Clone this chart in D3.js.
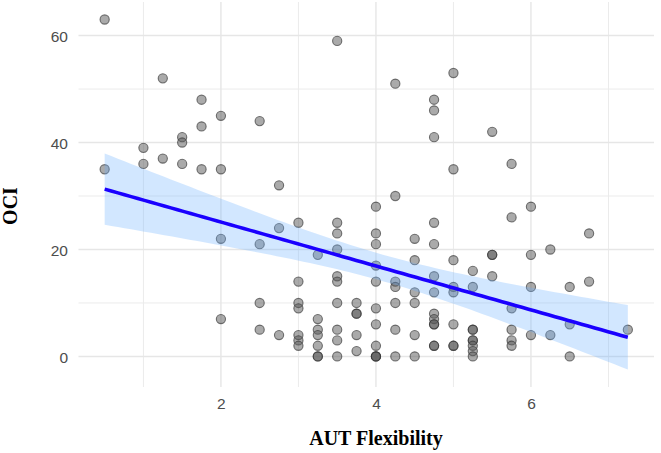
<!DOCTYPE html>
<html>
<head>
<meta charset="utf-8">
<script src="https://cdn.jsdelivr.net/npm/d3@7"></script>
<style>
  html, body { margin: 0; padding: 0; background: #fff; }
  svg { display: block; }
</style>
</head>
<body>
<svg id="chart" width="661" height="453"></svg>
<script>
// AUT Flexibility (x) and OCI (y) observations
const autFlexibility = [
  0.5, 0.5,
  1, 1,
  1.25, 1.25,
  1.5, 1.5, 1.5,
  1.75, 1.75, 1.75,
  2, 2, 2, 2,
  2.5, 2.5, 2.5, 2.5,
  2.75, 2.75, 2.75,
  3, 3, 3, 3, 3, 3, 3,
  3.25, 3.25, 3.25, 3.25, 3.25, 3.25, 3.25,
  3.5, 3.5, 3.5, 3.5, 3.5, 3.5, 3.5, 3.5, 3.5, 3.5,
  3.75, 3.75, 3.75, 3.75, 3.75,
  4, 4, 4, 4, 4, 4, 4, 4, 4, 4, 4,
  4.25, 4.25, 4.25, 4.25, 4.25, 4.25, 4.25,
  4.5, 4.5, 4.5, 4.5, 4.5, 4.5,
  4.75, 4.75, 4.75, 4.75, 4.75, 4.75, 4.75, 4.75, 4.75, 4.75, 4.75, 4.75, 4.75,
  5, 5, 5, 5, 5, 5, 5, 5,
  5.25, 5.25, 5.25, 5.25, 5.25, 5.25, 5.25, 5.25, 5.25,
  5.5, 5.5, 5.5, 5.5,
  5.75, 5.75, 5.75, 5.75, 5.75, 5.75,
  6, 6, 6, 6,
  6.25, 6.25,
  6.5, 6.5, 6.5,
  6.75, 6.75,
  7.25
];
const oci = [
  63, 35,
  39, 36,
  52, 37,
  41, 40, 36,
  48, 43, 35,
  45, 35, 22, 7,
  44, 21, 10, 5,
  32, 24, 4,
  25, 14, 10, 9, 4, 3, 2,
  19, 7, 5, 4, 2, 0, 0,
  59, 25, 23, 20, 15, 14, 10, 5, 3, 0,
  10, 8, 8, 4, 1,
  28, 23, 21, 17, 14, 9, 6, 2, 0, 0, 0,
  51, 30, 14, 13, 10, 5, 0,
  22, 18, 12, 10, 4, 0,
  48, 46, 41, 25, 21, 15, 12, 8, 7, 6, 6, 2, 2,
  53, 35, 18, 13, 12, 6, 2, 2,
  16, 13, 5, 5, 3, 3, 2, 1, 0,
  42, 19, 19, 15,
  36, 26, 9, 5, 3, 2,
  28, 19, 13, 4,
  20, 4,
  13, 6, 0,
  23, 14,
  5
];
const xMajorTicks = [2, 4, 6];
const xMinorTicks = [1, 3, 5, 7];
const yMajorTicks = [0, 20, 40, 60];
const yMinorTicks = [10, 30, 50];
const xTitle = "AUT Flexibility";
const yTitle = "OCI";

// ---- linear model with 95% confidence band (as geom_smooth(method = "lm")) ----
const n = oci.length;
const xbar = d3.mean(autFlexibility), ybar = d3.mean(oci);
let sxx = 0, sxy = 0;
for (let i = 0; i < n; i++) {
  sxx += (autFlexibility[i] - xbar) ** 2;
  sxy += (autFlexibility[i] - xbar) * (oci[i] - ybar);
}
const slope = sxy / sxx, intercept = ybar - slope * xbar;
let sse = 0;
for (let i = 0; i < n; i++) sse += (oci[i] - intercept - slope * autFlexibility[i]) ** 2;
const sigma = Math.sqrt(sse / (n - 2));
const tq = 1.976; // t(0.975, df ~ 150)
const [xMin, xMax] = d3.extent(autFlexibility);
const fit = d3.range(80).map(k => {
  const x = xMin + (xMax - xMin) * k / 79;
  const yhat = intercept + slope * x;
  const se = sigma * Math.sqrt(1 / n + (x - xbar) ** 2 / sxx);
  return { x, y: yhat, lo: yhat - tq * se, hi: yhat + tq * se };
});

// ---- scales (ggplot-style 5% expansion) ----
const panel = { left: 78.5, right: 654, top: 2, bottom: 387 };
const xr = xMax - xMin;
const yLo = Math.min(d3.min(oci), d3.min(fit, d => d.lo));
const yHi = Math.max(d3.max(oci), d3.max(fit, d => d.hi));
const yr = yHi - yLo;
const x = d3.scaleLinear().domain([xMin - 0.05 * xr, xMax + 0.05 * xr]).range([panel.left, panel.right]);
const y = d3.scaleLinear().domain([yLo - 0.05 * yr, yHi + 0.05 * yr]).range([panel.bottom, panel.top]);

const svg = d3.select("#chart");

// gridlines
const grid = svg.append("g");
grid.selectAll(".ymin").data(yMinorTicks).join("line")
  .attr("x1", panel.left).attr("x2", panel.right)
  .attr("y1", d => y(d)).attr("y2", d => y(d))
  .attr("stroke", "#ebebeb").attr("stroke-width", 1);
grid.selectAll(".xmin").data(xMinorTicks).join("line")
  .attr("y1", panel.top).attr("y2", panel.bottom)
  .attr("x1", d => x(d)).attr("x2", d => x(d))
  .attr("stroke", "#ebebeb").attr("stroke-width", 1);
grid.selectAll(".ymaj").data(yMajorTicks).join("line")
  .attr("x1", panel.left).attr("x2", panel.right)
  .attr("y1", d => y(d)).attr("y2", d => y(d))
  .attr("stroke", "#e6e6e6").attr("stroke-width", 1.4);
grid.selectAll(".xmaj").data(xMajorTicks).join("line")
  .attr("y1", panel.top).attr("y2", panel.bottom)
  .attr("x1", d => x(d)).attr("x2", d => x(d))
  .attr("stroke", "#e6e6e6").attr("stroke-width", 1.4);

// points
svg.append("g").selectAll("circle").data(d3.range(n)).join("circle")
  .attr("cx", i => x(autFlexibility[i]))
  .attr("cy", i => y(oci[i]))
  .attr("r", 4.6)
  .attr("fill", "#555")
  .attr("fill-opacity", 0.5)
  .attr("stroke", "#333")
  .attr("stroke-opacity", 0.65)
  .attr("stroke-width", 1.1);

// confidence ribbon
svg.append("path").datum(fit)
  .attr("d", d3.area().x(d => x(d.x)).y0(d => y(d.lo)).y1(d => y(d.hi)))
  .attr("fill", "#6ab0ff").attr("fill-opacity", 0.3);

// fitted line
svg.append("path").datum(fit)
  .attr("d", d3.line().x(d => x(d.x)).y(d => y(d.y)))
  .attr("fill", "none").attr("stroke", "#1a00ff").attr("stroke-width", 3.6);

// axes (text only)
const tickFont = "'Liberation Sans', Arial, sans-serif";
const xAxis = svg.append("g").attr("transform", `translate(0, ${panel.bottom})`)
  .call(d3.axisBottom(x).tickValues(xMajorTicks).tickSize(0).tickPadding(0).tickFormat(d3.format("d")));
xAxis.select(".domain").remove();
xAxis.selectAll("text").attr("y", 22).attr("dy", 0)
  .attr("font-family", tickFont).attr("font-size", 15.5).attr("fill", "#4d4d4d");

const yAxis = svg.append("g").attr("transform", `translate(68, 0)`)
  .call(d3.axisLeft(y).tickValues(yMajorTicks).tickSize(0).tickPadding(0).tickFormat(d3.format("d")));
yAxis.select(".domain").remove();
yAxis.selectAll("text").attr("x", 0).attr("dy", "0.36em")
  .attr("font-family", tickFont).attr("font-size", 15.5).attr("fill", "#4d4d4d");

// titles
const titleFont = "'Liberation Serif', 'Times New Roman', serif";
svg.append("text").text(xTitle)
  .attr("x", 376).attr("y", 445)
  .attr("text-anchor", "middle")
  .attr("font-family", titleFont).attr("font-weight", "bold").attr("font-size", 20)
  .attr("fill", "#000");
svg.append("text").text(yTitle)
  .attr("transform", "translate(17, 206) rotate(-90)")
  .attr("text-anchor", "middle")
  .attr("font-family", titleFont).attr("font-weight", "bold").attr("font-size", 20)
  .attr("fill", "#000");
</script>
</body>
</html>
